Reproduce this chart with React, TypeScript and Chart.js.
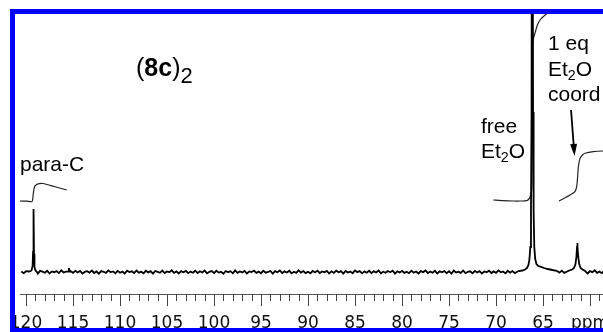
import React, { useEffect, useRef } from "react";
import { Chart, registerables } from "chart.js";

Chart.register(...registerables);

// ---- axis ----
const AXIS_MIN = 53.62;
const AXIS_MAX = 120.64;
const Y_MIN = -22;
const Y_MAX = 260;
const MAJOR_STEP = 5;
const UNIT_AT = 60;
const UNIT_LABEL = "ppm";

// ---- baseline noise (ppm grid start / step, values) ----
const NOISE_START = 120.5;
const NOISE_STEP = 0.25;
const baselineNoise = [
  0.5,-1.2,0.8,-0.3,1.5,-0.9,0.2,-1.6,1.1,0.4,-0.7,1.3,-1.4,0.6,-0.2,0.9,-1.1,1.7,-0.5,0.3,-1.3,0.7,-0.8,1.2,-0.4,
  1.0,-1.5,0.1,0.8,-0.6,1.4,-1.0,0.5,-1.7,0.9,0.2,-0.9,1.6,-0.3,0.6,-1.2,1.1,-0.7,0.4,-1.4,1.3,-0.1,0.7,-1.0,1.5,
  -0.6,0.3,-1.3,1.2,-0.4,0.8,-1.6,1.0,0.1,-0.8,1.4,-1.1,0.5,-0.2,1.7,-0.9,0.6,-1.5,0.9,-0.3,1.1,-1.2,0.4,-0.7,1.3,
  -1.0,0.7,-0.5,1.5,-1.4,0.2,0.9,-1.1,1.2,-0.6,0.3,-1.7,1.0,-0.2,0.8,-1.3,1.6,-0.8,0.5,-0.4,1.1,-1.5,0.6,-0.1,1.4,
  -0.9,0.4,-1.2,1.3,-0.7,0.1,1.0,-1.6,0.8,-0.3,1.5,-1.0,0.6,-0.5,1.2,-1.4,0.3,-0.8,1.7,-0.6,0.9,-1.1,0.2,-1.3,1.0,
  -0.4,1.4,-1.0,0.5,-0.2,1.1,-1.5,0.7,-0.9,1.3,-0.3,0.8,-1.7,1.0,-0.6,0.4,-1.2,1.6,-0.1,0.9,-1.4,0.6,-0.7,1.2,-1.1,
  0.8,-0.5,1.5,-1.3,0.3,-0.8,1.0,-0.2,1.4,-1.6,0.7,-0.4,1.1,-0.9,0.2,-1.2,1.3,-0.6,0.5,-1.5,0.9,-0.1,1.6,-1.0,0.4,
  -0.7,1.2,-1.4,0.6,-0.3,1.0,-1.1,0.8,-1.7,1.4,-0.5,0.3,-0.9,1.5,-1.2,0.1,0.7,-1.3,1.1,-0.4,0.9,-1.6,0.5,-0.2,1.3,
  -1.0,0.6,-0.8,1.6,-0.3,0.4,-1.4,1.2,-0.6,0.9,-1.1,0.2,1.0,-1.5,0.7,-0.4,1.3,-0.9,0.5,-1.2,1.5,-0.7,0.3,-1.0,0.8,
  -0.2,1.1,-1.3,0.5,-0.6,1.4,-0.9,0.2,-1.6,1.0,-0.4,0.8,-1.1,1.2,-0.5,0.6,-1.4,0.9,-0.1,1.7,-0.8,0.4,-1.2,1.1,-0.3,
];

// ---- peaks [ppm, intensity] ----
const paraCPeak: [number, number][] = [
  [119.7, 0.5],[119.5, 1],[119.4, 2],[119.3, 6],[119.25, 20],[119.2, 63],[119.15, 18],[119.1, 5],[119.0, 1.5],[118.85, 0.3],
];
const smallPeak: [number, number][] = [
  [115.5, 0.4],[115.43, 4],[115.36, 0.5],
];
const freeEt2OPeak: [number, number][] = [
  [67.6, 1],[67.2, 1.5],[66.9, 2.5],[66.7, 4],[66.55, 7],[66.45, 12],[66.35, 25],[66.28, 60],[66.22, 160],
  [66.17, 500],[66.14, 900],[66.11, 500],[66.06, 160],[66.0, 60],[65.93, 25],[65.83, 13],[65.7, 8],
  [65.5, 6],[65.2, 5.2],[64.9, 4],[64.5, 3],[64.0, 2],[63.55, 1.2],
];
const coordEt2OPeak: [number, number][] = [
  [62.2, 1.5],[61.9, 2.5],[61.7, 4],[61.55, 8],[61.45, 15],[61.38, 25],[61.35, 29],[61.32, 25],
  [61.25, 15],[61.15, 8],[61.0, 4],[60.8, 2.5],[60.55, 1.2],
];

// ---- integral curves [ppm, level] ----
const paraCIntegral: [number, number][] = [
  [120.64, 71],[119.9, 70.8],[119.39, 70.3],[119.3, 72],[119.22, 79],[119.1, 85],[118.94, 87],[118.6, 88.3],
  [118.19, 88.5],[117.0, 85.5],[115.67, 82],
];
const freeEt2OIntegral: [number, number][] = [
  [70.29, 72],[69.2, 71.3],[68.16, 71],[67.4, 71],[66.73, 71.3],[66.5, 73],[66.38, 75.3],[66.2, 82],
  [66.17, 150],[66.14, 219],[66.06, 232],[65.85, 239],[65.6, 247],[65.32, 252],[64.9, 256],[64.47, 259],[63.2, 262],
];
const coordEt2OIntegral: [number, number][] = [
  [63.3, 71],[62.7, 74],[62.13, 77],[61.6, 80.3],[61.42, 85.3],[61.32, 95],[61.24, 105.3],[61.06, 113.7],
  [60.8, 117],[60.53, 118.7],[59.65, 120.3],[58.62, 121],[56.8, 121.5],
];

// ---- arrow [ppm, level] ----
const arrowTail: [number, number] = [62.02, 162];
const arrowTip: [number, number] = [61.65, 116];

const peakWindows: [number, number][] = [
  [118.8, 119.75],[115.33, 115.55],[63.5, 67.65],[60.5, 62.25],
];

function buildSpectrum() {
  const pts: { x: number; y: number }[] = [];
  baselineNoise.forEach((v, i) => {
    const x = NOISE_START - i * NOISE_STEP;
    if (!peakWindows.some(([a, b]) => x >= a && x <= b)) pts.push({ x, y: v });
  });
  [paraCPeak, smallPeak, freeEt2OPeak, coordEt2OPeak].forEach((pk) =>
    pk.forEach(([x, y]) => pts.push({ x, y }))
  );
  pts.sort((a, b) => b.x - a.x);
  return pts;
}
const toXY = (arr: [number, number][]) => arr.map(([x, y]) => ({ x, y }));

const minorTicksPlugin = {
  id: "minorTicks",
  afterDraw(chart: any) {
    const s = chart.scales.x;
    const ctx = chart.ctx;
    ctx.save();
    ctx.strokeStyle = "#444";
    ctx.lineWidth = 1;
    for (let v = Math.ceil(AXIS_MIN); v <= Math.floor(AXIS_MAX); v++) {
      if (v % MAJOR_STEP === 0) continue;
      const px = Math.round(s.getPixelForValue(v)) + 0.5;
      ctx.beginPath();
      ctx.moveTo(px, s.top);
      ctx.lineTo(px, s.top + 7);
      ctx.stroke();
    }
    // arrow
    const ys = chart.scales.y;
    const x1 = s.getPixelForValue(arrowTail[0]);
    const y1 = ys.getPixelForValue(arrowTail[1]);
    const x2 = s.getPixelForValue(arrowTip[0]);
    const y2 = ys.getPixelForValue(arrowTip[1]);
    const ang = Math.atan2(y2 - y1, x2 - x1);
    const hl = 12, hw = 3.5;
    const bx = x2 - hl * Math.cos(ang), by = y2 - hl * Math.sin(ang);
    ctx.strokeStyle = "#000";
    ctx.fillStyle = "#000";
    ctx.lineWidth = 1.8;
    ctx.beginPath();
    ctx.moveTo(x1, y1);
    ctx.lineTo(bx, by);
    ctx.stroke();
    ctx.beginPath();
    ctx.moveTo(x2, y2);
    ctx.lineTo(bx + hw * Math.sin(ang), by - hw * Math.cos(ang));
    ctx.lineTo(bx - hw * Math.sin(ang), by + hw * Math.cos(ang));
    ctx.closePath();
    ctx.fill();
    ctx.restore();
  },
};

export default function App() {
  const ref = useRef<HTMLCanvasElement | null>(null);
  useEffect(() => {
    if (!ref.current) return;
    const integralStyle = {
      borderColor: "#222",
      borderWidth: 1.2,
      pointRadius: 0,
      tension: 0.2,
      fill: false,
    };
    const chart = new Chart(ref.current, {
      type: "line",
      data: {
        datasets: [
          { label: "spectrum", data: buildSpectrum(), borderColor: "#000", borderWidth: 1.8, pointRadius: 0, tension: 0, fill: false },
          { label: "int-para", data: toXY(paraCIntegral), ...integralStyle },
          { label: "int-free", data: toXY(freeEt2OIntegral), ...integralStyle },
          { label: "int-coord", data: toXY(coordEt2OIntegral), ...integralStyle },
        ] as any,
      },
      options: {
        animation: false,
        responsive: true,
        maintainAspectRatio: false,
        devicePixelRatio: 1,
        layout: { padding: { left: 20, right: 0, top: 12, bottom: 0 } },
        plugins: { legend: { display: false }, tooltip: { enabled: false } },
        events: [],
        scales: {
          x: {
            type: "linear",
            min: AXIS_MIN,
            max: AXIS_MAX,
            reverse: true,
            position: "bottom",
            afterFit: (scale: any) => {
              scale.height = 46;
              scale.paddingLeft = 0;
              scale.paddingRight = 0;
            },
            border: { display: true, color: "#555", width: 1 },
            grid: {
              display: true,
              drawOnChartArea: false,
              drawTicks: true,
              tickLength: 12,
              tickColor: (ctx: any) => (ctx.tick && Math.abs(ctx.tick.value % MAJOR_STEP) < 1e-6 ? "#444" : "rgba(0,0,0,0)"),
            },
            ticks: {
              stepSize: 1,
              includeBounds: false,
              autoSkip: false,
              maxRotation: 0,
              minRotation: 0,
              padding: 7,
              color: "#111",
              font: { family: "'DejaVu Sans', sans-serif", size: 17 },
              callback: (v: any) => {
                const n = Number(v);
                if (Math.abs(n - Math.round(n)) > 1e-6 || Math.round(n) % MAJOR_STEP !== 0) return "";
                if (Math.round(n) === UNIT_AT) return UNIT_LABEL;
                if (n < UNIT_AT) return "";
                return String(Math.round(n));
              },
            },
          },
          y: { type: "linear", display: false, min: Y_MIN, max: Y_MAX },
        },
      } as any,
      plugins: [minorTicksPlugin],
    });
    return () => chart.destroy();
  }, []);

  const txt: React.CSSProperties = {
    position: "absolute",
    fontFamily: "'Liberation Sans', Arial, sans-serif",
    fontSize: 21,
    color: "#000",
    whiteSpace: "nowrap",
  };
  const sub: React.CSSProperties = { fontSize: "0.68em", verticalAlign: "-0.28em", lineHeight: 0 };

  return (
    <div style={{ position: "fixed", left: 0, top: 0, width: 603, height: 332, overflow: "hidden", background: "#fff" }}>
      <div style={{ position: "absolute", left: 0, top: 0, width: 650, height: 340 }}>
        <canvas ref={ref} />
      </div>
      <div style={{ ...txt, left: 136, top: 52, fontSize: 25, lineHeight: "30px" }}>
        (<b>8c</b>)<span style={{ fontSize: "0.88em", verticalAlign: "-0.3em", lineHeight: 0 }}>2</span>
      </div>
      <div style={{ ...txt, left: 20, top: 151, lineHeight: "25px" }}>para-C</div>
      <div style={{ ...txt, left: 481, top: 113, lineHeight: "25px" }}>
        free<br />Et<span style={sub}>2</span>O
      </div>
      <div style={{ ...txt, left: 548, top: 30, lineHeight: "25.5px" }}>
        1 eq<br />Et<span style={sub}>2</span>O<br />coord
      </div>
      <div
        style={{
          position: "absolute",
          left: 10,
          top: 9,
          width: 640,
          height: 324,
          boxSizing: "border-box",
          border: "5px solid #0000ff",
          pointerEvents: "none",
        }}
      />
    </div>
  );
}
